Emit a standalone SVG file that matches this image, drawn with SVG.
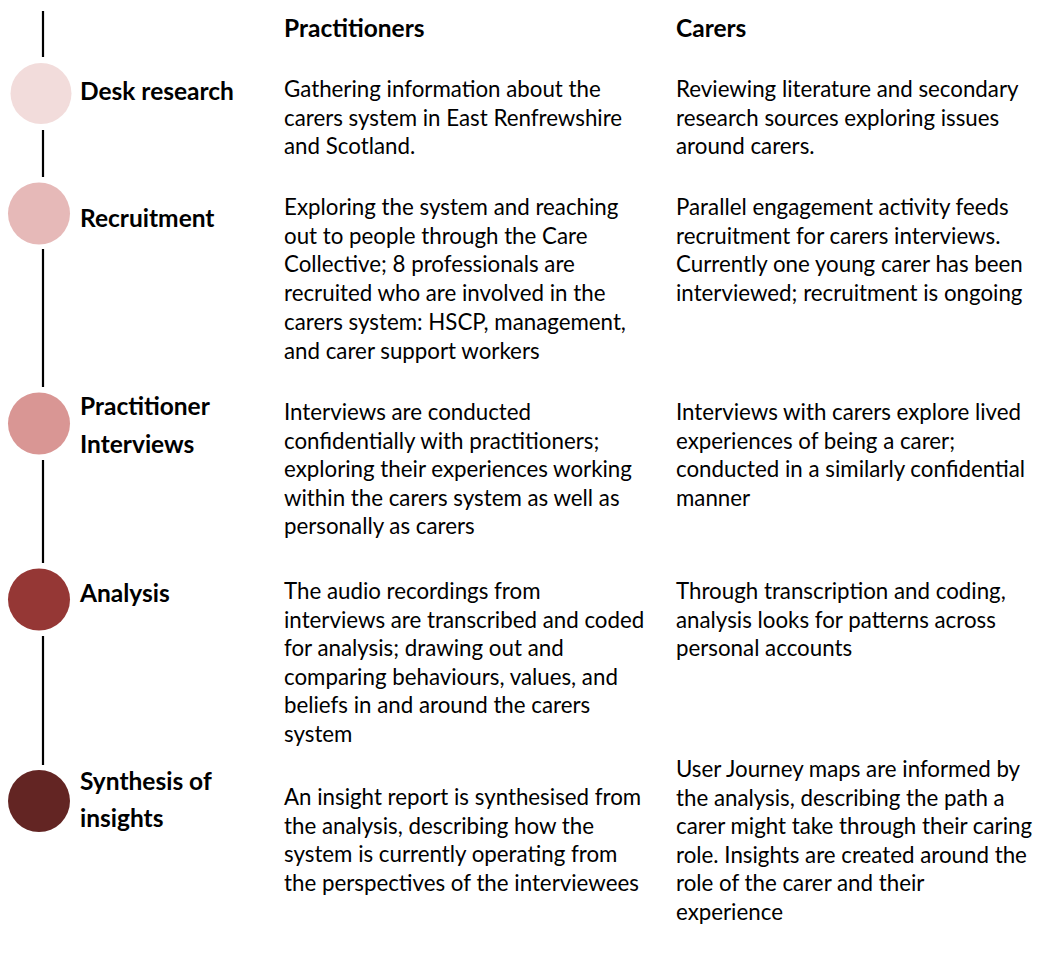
<svg xmlns="http://www.w3.org/2000/svg" width="1038" height="956" viewBox="0 0 1038 956">
<style>
text{font-family:Lato,"Open Sans","Liberation Sans",sans-serif;fill:#000}
.b{font-size:22.3px}
.h{font-size:24.5px;font-weight:bold}
.l{stroke:#000;stroke-width:2.2}
</style>
<rect width="1038" height="956" fill="#fff"/>
<g id="connectors">
<line class="l" x1="43" y1="11" x2="43" y2="57"/>
<line class="l" x1="43" y1="130" x2="43" y2="177"/>
<line class="l" x1="43" y1="249" x2="43" y2="387"/>
<line class="l" x1="43" y1="460" x2="43" y2="563"/>
<line class="l" x1="43" y1="636" x2="43" y2="765"/>
</g>
<g id="headers">
<text class="h" x="284" y="37">Practitioners</text>
<text class="h" x="676" y="37">Carers</text>
</g>
<g id="desk-research">
<circle cx="41" cy="93.5" r="30.5" fill="#F2DCDB"/>
<text class="h" x="80" y="100">Desk research</text>
<text class="b" x="284" y="97"><tspan x="284">Gathering information about the</tspan><tspan x="284" dy="28.5">carers system in East Renfrewshire</tspan><tspan x="284" dy="28.5">and Scotland.</tspan></text>
<text class="b" x="676" y="97"><tspan x="676">Reviewing literature and secondary</tspan><tspan x="676" dy="28.5">research sources exploring issues</tspan><tspan x="676" dy="28.5">around carers.</tspan></text>
</g>
<g id="recruitment">
<circle cx="39" cy="213.5" r="31" fill="#E6B9B8"/>
<text class="h" x="80" y="227">Recruitment</text>
<text class="b" x="284" y="215"><tspan x="284">Exploring the system and reaching</tspan><tspan x="284" dy="28.7">out to people through the Care</tspan><tspan x="284" dy="28.7">Collective; 8 professionals are</tspan><tspan x="284" dy="28.7">recruited who are involved in the</tspan><tspan x="284" dy="28.7">carers system: HSCP, management,</tspan><tspan x="284" dy="28.7">and carer support workers</tspan></text>
<text class="b" x="676" y="215"><tspan x="676">Parallel engagement activity feeds</tspan><tspan x="676" dy="28.7">recruitment for carers interviews.</tspan><tspan x="676" dy="28.7">Currently one young carer has been</tspan><tspan x="676" dy="28.7">interviewed; recruitment is ongoing</tspan></text>
</g>
<g id="practitioner-interviews">
<circle cx="39" cy="423.5" r="31" fill="#D99694"/>
<text class="h" x="80" y="415"><tspan x="80">Practitioner</tspan><tspan x="80" dy="37.5">Interviews</tspan></text>
<text class="b" x="284" y="420"><tspan x="284">Interviews are conducted</tspan><tspan x="284" dy="28.6">confidentially with practitioners;</tspan><tspan x="284" dy="28.6">exploring their experiences working</tspan><tspan x="284" dy="28.6">within the carers system as well as</tspan><tspan x="284" dy="28.6">personally as carers</tspan></text>
<text class="b" x="676" y="420"><tspan x="676">Interviews with carers explore lived</tspan><tspan x="676" dy="28.6">experiences of being a carer;</tspan><tspan x="676" dy="28.6">conducted in a similarly confidential</tspan><tspan x="676" dy="28.6">manner</tspan></text>
</g>
<g id="analysis">
<circle cx="39" cy="599.5" r="31" fill="#953735"/>
<text class="h" x="80" y="602">Analysis</text>
<text class="b" x="284" y="599"><tspan x="284">The audio recordings from</tspan><tspan x="284" dy="28.6">interviews are transcribed and coded</tspan><tspan x="284" dy="28.6">for analysis; drawing out and</tspan><tspan x="284" dy="28.6">comparing behaviours, values, and</tspan><tspan x="284" dy="28.6">beliefs in and around the carers</tspan><tspan x="284" dy="28.6">system</tspan></text>
<text class="b" x="676" y="599"><tspan x="676">Through transcription and coding,</tspan><tspan x="676" dy="28.6">analysis looks for patterns across</tspan><tspan x="676" dy="28.6">personal accounts</tspan></text>
</g>
<g id="synthesis-of-insights">
<circle cx="39" cy="801" r="31" fill="#632523"/>
<text class="h" x="80" y="790"><tspan x="80">Synthesis of</tspan><tspan x="80" dy="37">insights</tspan></text>
<text class="b" x="284" y="805"><tspan x="284">An insight report is synthesised from</tspan><tspan x="284" dy="28.6">the analysis, describing how the</tspan><tspan x="284" dy="28.6">system is currently operating from</tspan><tspan x="284" dy="28.6">the perspectives of the interviewees</tspan></text>
<text class="b" x="676" y="777"><tspan x="676">User Journey maps are informed by</tspan><tspan x="676" dy="28.6">the analysis, describing the path a</tspan><tspan x="676" dy="28.6">carer might take through their caring</tspan><tspan x="676" dy="28.6">role. Insights are created around the</tspan><tspan x="676" dy="28.6">role of the carer and their</tspan><tspan x="676" dy="28.6">experience</tspan></text>
</g>
</svg>
